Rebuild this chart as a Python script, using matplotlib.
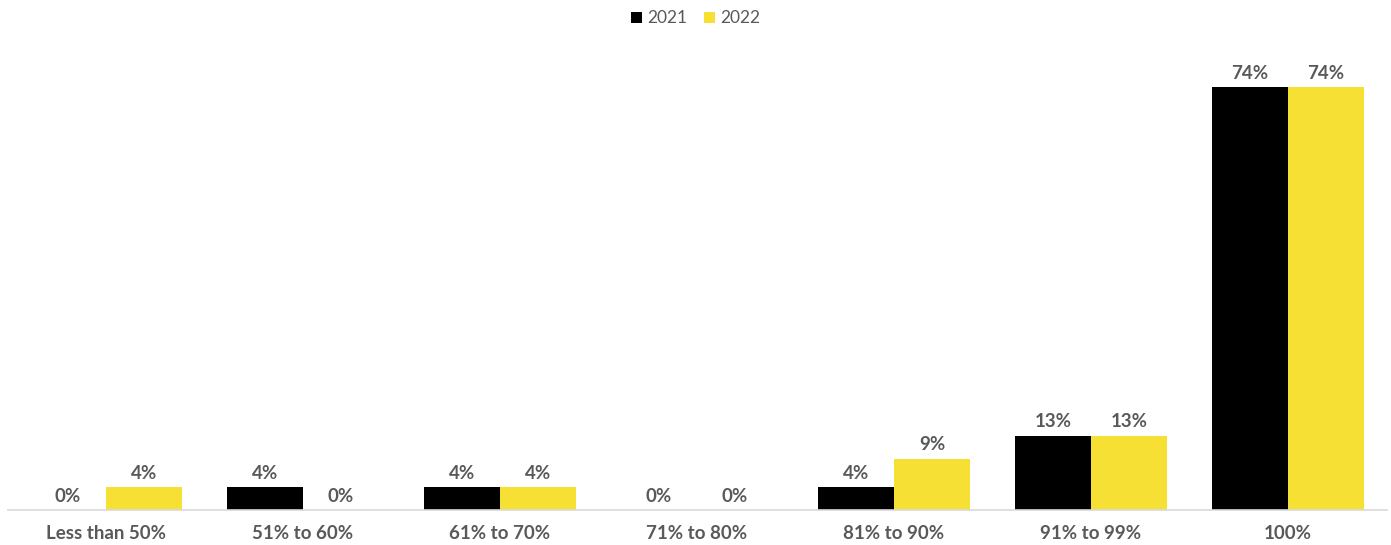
import matplotlib.pyplot as plt
import numpy as np

categories = ['Less than 50%', '51% to 60%', '61% to 70%', '71% to 80%',
              '81% to 90%', '91% to 99%', '100%']
vals_2021 = [0, 4, 4, 0, 4, 13, 74]
vals_2022 = [4, 0, 4, 0, 9, 13, 74]

plt.rcParams['font.family'] = ['Lato', 'DejaVu Sans']
grey = '#595959'

fig = plt.figure(figsize=(13.91, 5.45), dpi=100)
ax = fig.add_axes([7.5 / 1391, 35 / 545, 1379 / 1391, 457.6 / 545])

x = np.arange(len(categories))
w = 0.386
b1 = ax.bar(x - w / 2, vals_2021, w, color='#000000', label='2021')
b2 = ax.bar(x + w / 2, vals_2022, w, color='#f7e034', label='2022')

for bars, vals in ((b1, vals_2021), (b2, vals_2022)):
    for bar, v in zip(bars, vals):
        ax.text(bar.get_x() + bar.get_width() / 2, v + 0.9, f'{v}%',
                ha='center', va='bottom', fontsize=13.5, fontweight='bold',
                color=grey)

ax.set_xlim(-0.5, len(categories) - 0.5)
ax.set_ylim(0, 80)
ax.set_xticks(x)
ax.set_xticklabels(categories, fontsize=13.5, fontweight='bold', color=grey)
ax.tick_params(axis='x', length=0, pad=11)
ax.set_yticks([])
for s in ['top', 'right', 'left']:
    ax.spines[s].set_visible(False)
ax.spines['bottom'].set_color('#d9d9d9')
ax.spines['bottom'].set_linewidth(1.2)

leg = fig.legend(loc='upper center', bbox_to_anchor=(0.5, 1.01), ncol=2,
                 frameon=False, fontsize=12.5, handlelength=0.6,
                 handleheight=0.6, handletextpad=0.3, columnspacing=1.0)
for t in leg.get_texts():
    t.set_color(grey)

fig.savefig('out.png', dpi=100)
